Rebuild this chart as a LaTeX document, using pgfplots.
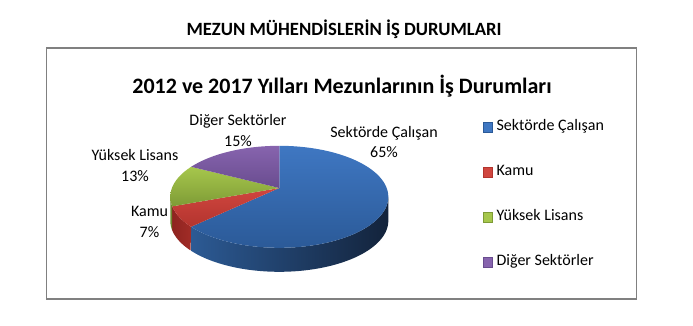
\documentclass[border=0pt]{standalone}
\usepackage{fontspec}
\setmainfont{Carlito}
\usepackage{pgfplots}
\pgfplotsset{compat=1.18}

\definecolor{bluetop}{HTML}{3F77C2}
\definecolor{bluebot}{HTML}{2B5A98}
\definecolor{blueside1}{HTML}{2C5A94}
\definecolor{blueside2}{HTML}{13233B}
\definecolor{redtop}{HTML}{D0463F}
\definecolor{redbot}{HTML}{B3342E}
\definecolor{redside1}{HTML}{8E2420}
\definecolor{redside2}{HTML}{A12C27}
\definecolor{greentop}{HTML}{A6C74C}
\definecolor{greenbot}{HTML}{7E9B36}
\definecolor{greenside}{HTML}{6C8630}
\definecolor{purptop}{HTML}{8764AE}
\definecolor{purpbot}{HTML}{694C8F}
\definecolor{framegray}{HTML}{808080}

% ---- data (percent shares) ----
\def\valA{65} % Sektörde Çalışan
\def\valB{7}  % Kamu
\def\valC{13} % Yüksek Lisans
\def\valD{15} % Diğer Sektörler

\pgfmathsetmacro\aA{90}
\pgfmathsetmacro\aB{\aA-3.6*\valA}
\pgfmathsetmacro\aC{\aB-3.6*\valB}
\pgfmathsetmacro\aD{\aC-3.6*\valC}
\pgfmathsetmacro\aE{\aD-3.6*\valD}

% ---- pie geometry (in px of the picture) ----
\def\cx{279.3}
\def\cy{196.8}
\def\rx{109}
\def\ry{51}
\def\dep{24}
\def\apx{279.3}
\def\apy{188}

\pgfplotsset{
  sqleg/.style={legend image code/.code={\filldraw[##1] (0pt,-4.7pt) rectangle (9.4pt,4.7pt);}},
}

\begin{document}
\begin{tikzpicture}
\begin{axis}[
  scale only axis, width=693pt, height=325pt,
  xmin=0, xmax=693, ymin=0, ymax=325, y dir=reverse,
  hide axis, clip=false,
  legend cell align=left,
  legend style={draw=none, fill=none, inner xsep=0pt, inner ysep=0pt,
    at={(axis cs:482.3,119.25)}, anchor=north west,
    row sep=29.5pt, column sep=4.3pt,
    nodes={inner sep=0pt, text height=11.5pt, text depth=4pt},
    font=\fontsize{16}{19}\selectfont},
]
% front sides
\addplot[forget plot, draw=none, left color=blueside1, right color=blueside2,
  domain=0:2, samples=201, variable=\t]
  ({\cx+\rx*cos(ifthenelse(\t<=1, \aB+(0-\aB)*\t, 0+(\aB-0)*(\t-1)))},
   {\cy-\ry*sin(ifthenelse(\t<=1, \aB+(0-\aB)*\t, 0+(\aB-0)*(\t-1)))+ifthenelse(\t>1,\dep,0)}) -- cycle;
\addplot[forget plot, draw=none, left color=redside1, right color=redside2,
  domain=0:2, samples=101, variable=\t]
  ({\cx+\rx*cos(ifthenelse(\t<=1, \aC+(\aB-\aC)*\t, \aB+(\aC-\aB)*(\t-1)))},
   {\cy-\ry*sin(ifthenelse(\t<=1, \aC+(\aB-\aC)*\t, \aB+(\aC-\aB)*(\t-1)))+ifthenelse(\t>1,\dep,0)}) -- cycle;
\addplot[forget plot, draw=none, fill=greenside,
  domain=0:2, samples=41, variable=\t]
  ({\cx+\rx*cos(ifthenelse(\t<=1, -180+(\aC+180)*\t, \aC+(-180-\aC)*(\t-1)))},
   {\cy-\ry*sin(ifthenelse(\t<=1, -180+(\aC+180)*\t, \aC+(-180-\aC)*(\t-1)))+ifthenelse(\t>1,\dep,0)}) -- cycle;
% top faces
\addplot[forget plot, draw=none, top color=bluetop, bottom color=bluebot,
  domain=\aB:\aA, samples=120] ({\cx+\rx*cos(x)},{\cy-\ry*sin(x)}) -- (axis cs:\apx,\apy) -- cycle;
\addplot[forget plot, draw=none, top color=redtop, bottom color=redbot,
  domain=\aC:\aB, samples=30] ({\cx+\rx*cos(x)},{\cy-\ry*sin(x)}) -- (axis cs:\apx,\apy) -- cycle;
\addplot[forget plot, draw=none, top color=greentop, bottom color=greenbot,
  domain=\aD:\aC, samples=40] ({\cx+\rx*cos(x)},{\cy-\ry*sin(x)}) -- (axis cs:\apx,\apy) -- cycle;
\addplot[forget plot, draw=none, top color=purptop, bottom color=purpbot,
  domain=\aE:\aD, samples=40] ({\cx+\rx*cos(x)},{\cy-\ry*sin(x)}) -- (axis cs:\apx,\apy) -- cycle;

% legend
\addlegendimage{sqleg, fill=bluetop, draw=bluebot}
\addlegendentry{Sektörde Çalışan}
\addlegendimage{sqleg, fill=redtop, draw=redbot}
\addlegendentry{Kamu}
\addlegendimage{sqleg, fill=greentop, draw=greenbot}
\addlegendentry{Yüksek Lisans}
\addlegendimage{sqleg, fill=purptop, draw=purpbot}
\addlegendentry{Diğer Sektörler}

% frame and titles
\draw[framegray, line width=1.2pt] (axis cs:46.5,48) rectangle (axis cs:636.5,299);
\node[anchor=base west, font=\fontsize{18.7}{22}\selectfont\bfseries] at (axis cs:183,35) {MEZUN MÜHENDİSLERİN İŞ DURUMLARI};
\node[anchor=base, font=\fontsize{22}{26}\selectfont\bfseries] at (axis cs:342,93.5) {2012 ve 2017 Yılları Mezunlarının İş Durumları};

% data labels
\node[align=center, font=\fontsize{16}{20.5}\selectfont] at (axis cs:238,130.3) {Diğer Sektörler\\\valD\%};
\node[align=center, font=\fontsize{16}{20.5}\selectfont] at (axis cs:384,142.2) {Sektörde Çalışan\\\valA\%};
\node[align=center, font=\fontsize{16}{20.5}\selectfont] at (axis cs:135,165.5) {Yüksek Lisans\\\valC\%};
\node[align=center, font=\fontsize{16}{20.5}\selectfont] at (axis cs:149.5,221.7) {Kamu\\\valB\%};
\end{axis}
\pgfresetboundingbox
\path (0,0) rectangle (693pt,325pt);
\end{tikzpicture}
\end{document}
